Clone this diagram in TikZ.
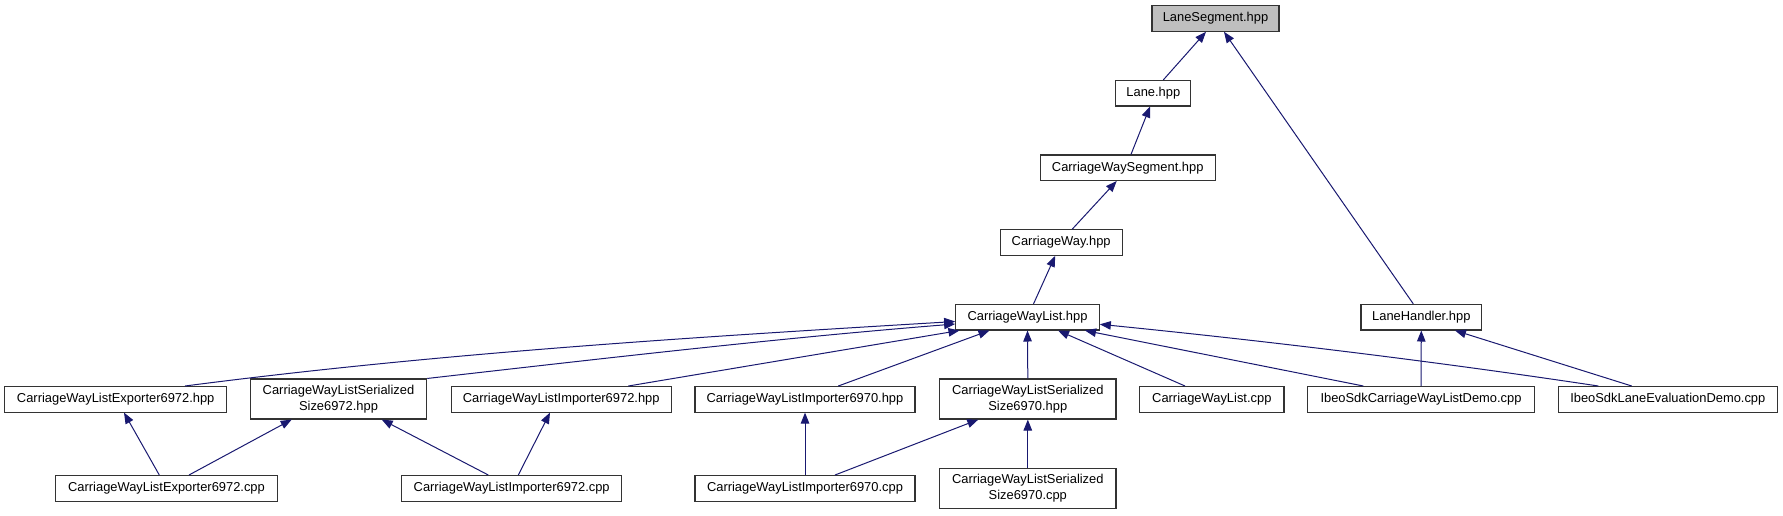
\documentclass[tikz,border=0pt]{standalone}
\usepackage{fontspec}
\setmainfont{Liberation Sans}
\usetikzlibrary{arrows.meta,calc}
\definecolor{edgeblue}{HTML}{191970}
\definecolor{boxgray}{HTML}{BFBFBF}
\definecolor{boxline}{HTML}{333333}
\tikzset{
  box/.style={draw=boxline, line width=1.1pt, fill=white, inner sep=0pt, minimum height=25.5pt,
    font=\fontsize{12.9}{16.3}\selectfont, align=center},
  tallbox/.style={box, minimum height=40pt},
  rootbox/.style={box, fill=boxgray},
  edge/.style={draw=edgeblue, line width=1pt, -{Triangle[length=11pt,width=8.5pt]}}
}
\begin{document}
\begin{tikzpicture}[x=1pt,y=-1pt]
\useasboundingbox (0,0) rectangle (1783,515);
% nodes
\node[rootbox, minimum width=127pt]   (ls)   at (1215.5,18.5)  {LaneSegment.hpp};
\node[box, minimum width=75pt]        (lane) at (1153.3,93.2)  {Lane.hpp};
\node[box, minimum width=175pt]       (cws)  at (1127.7,167.7) {CarriageWaySegment.hpp};
\node[box, minimum width=122.3pt]     (cw)   at (1061.2,242.5) {CarriageWay.hpp};
\node[box, minimum width=143.6pt]     (cwl)  at (1027.5,317.2) {CarriageWayList.hpp};
\node[box, minimum width=120.7pt]     (lh)   at (1421.3,317.2) {LaneHandler.hpp};
\node[box, minimum width=222pt]       (exh)  at (115.7,399.3)  {CarriageWayListExporter6972.hpp};
\node[tallbox, minimum width=176.4pt] (s72h) at (338.5,399)    {CarriageWayListSerialized\\Size6972.hpp};
\node[box, minimum width=220.3pt]     (i72h) at (561.2,399.3)  {CarriageWayListImporter6972.hpp};
\node[box, minimum width=220pt]       (i70h) at (805,399.3)    {CarriageWayListImporter6970.hpp};
\node[tallbox, minimum width=176.3pt] (s70h) at (1027.8,399)   {CarriageWayListSerialized\\Size6970.hpp};
\node[box, minimum width=144.3pt]     (cwlc) at (1211.8,399.3) {CarriageWayList.cpp};
\node[box, minimum width=226.6pt]     (d1)   at (1421,399.3)   {IbeoSdkCarriageWayListDemo.cpp};
\node[box, minimum width=219pt]       (d2)   at (1667.8,399.3) {IbeoSdkLaneEvaluationDemo.cpp};
\node[box, minimum width=221.6pt]     (exc)  at (166.5,488.3)  {CarriageWayListExporter6972.cpp};
\node[box, minimum width=220pt]       (i72c) at (511.7,488.3)  {CarriageWayListImporter6972.cpp};
\node[box, minimum width=220pt]       (i70c) at (805,488.3)    {CarriageWayListImporter6970.cpp};
\node[tallbox, minimum width=176.3pt] (s70c) at (1027.8,488.5) {CarriageWayListSerialized\\Size6970.cpp};
% edges
\draw[edge] ($(lane.north)+(10,0)$) -- ($(ls.south)+(-9.5,0)$);
\draw[edge] ($(lh.north)+(-8,0)$) -- ($(ls.south)+(8.5,0)$);
\draw[edge] ($(cws.north)+(3.3,0)$) -- ($(lane.south)+(-3.3,0)$);
\draw[edge] ($(cw.north)+(11,0)$) -- ($(cws.south)+(-11,0)$);
\draw[edge] ($(cwl.north)+(6,0)$) -- ($(cw.south)+(-6,0)$);
\draw[edge] ($(exh.north)+(69.3,0)$) .. controls +(257,-33.4) and +(-257,15.4) .. ($(cwl.west)+(0,4.3)$);
\draw[edge] (s72h.north east) .. controls +(176,-20) and +(-176,14) .. ($(cwl.west)+(0,6.8)$);
\draw[edge] ($(i72h.north)+(67.1,0)$) -- ($(cwl.south west)+(4.3,0)$);
\draw[edge] ($(i70h.north)+(33.3,0)$) -- ($(cwl.south west)+(34.3,0)$);
\draw[edge] (s70h.north) -- (cwl.south);
\draw[edge] ($(cwlc.north)+(-26.8,0)$) -- ($(cwl.south)+(30.5,0)$);
\draw[edge] ($(d1.north)+(-57.7,0)$) -- ($(cwl.south)+(57.5,0)$);
\draw[edge] ($(d2.north)+(-69.5,0)$) .. controls +(-166,-25) and +(166,16.6) .. ($(cwl.east)+(0,7.1)$);
\draw[edge] (d1.north) -- (lh.south);
\draw[edge] ($(d2.north)+(-36.1,0)$) -- ($(lh.south)+(33.7,0)$);
\draw[edge] ($(exc.north)+(-7.2,0)$) -- ($(exh.south)+(8.3,0)$);
\draw[edge] ($(exc.north)+(22.5,0)$) -- ($(s72h.south)+(-46.8,0)$);
\draw[edge] ($(i72c.north)+(-23.4,0)$) -- ($(s72h.south)+(43.2,0)$);
\draw[edge] ($(i72c.north)+(6.6,0)$) -- ($(i72h.south)+(-11.2,0)$);
\draw[edge] (i70c.north) -- (i70h.south);
\draw[edge] ($(i70c.north)+(30,0)$) -- ($(s70h.south)+(-49.5,0)$);
\draw[edge] (s70c.north) -- (s70h.south);
\end{tikzpicture}
\end{document}
